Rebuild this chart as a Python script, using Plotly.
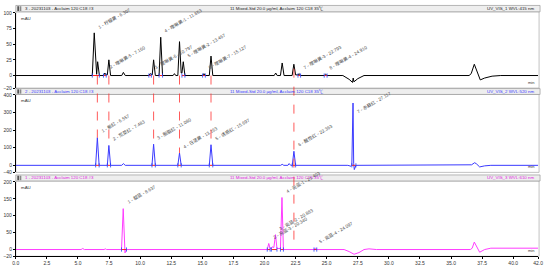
import plotly.graph_objects as go

W, H = 550, 272

# ---------------- data ----------------
# Channel 3 : UV_VIS_1  415 nm (black)
t415 = [0.0, 6.15, 6.307, 6.44, 6.50, 6.58, 6.72,
        7.05, 7.16, 7.26, 7.36, 7.483, 7.62,
        8.52, 8.65, 8.80,
        10.70, 10.797, 10.90, 10.97, 11.08, 11.22,
        11.52, 11.653, 11.80,
        12.65, 12.757, 12.86,
        13.03, 13.163, 13.30, 13.36, 13.467, 13.60,
        15.02, 15.127, 15.24,
        15.56, 15.697, 15.84,
        20.78, 20.90, 21.02,
        21.28, 21.42, 21.57,
        22.22, 22.36, 22.50, 22.69, 22.793, 22.90,
        24.80, 24.91, 25.03,
        26.30, 26.80, 27.08, 27.13, 27.19, 27.50, 28.00,
        36.45, 36.62, 36.87, 37.05, 37.35, 37.70, 38.30, 39.00, 42.0]
v415 = [0, 0, 68, 3, 2, 22, 0,
        0, 4, 1, 1, 25, 0,
        0, 5, 0,
        0, 3, 1, 1, 25, 0,
        0, 61, 0,
        0, 3, 0,
        0, 54, 4, 4, 22, 0,
        0, 3, 0,
        0, 31, 0,
        0, 4, 0,
        0, 20, 0,
        0, 18, 1, 1, 3, 0,
        0, 2, 0,
        0, -6, -11, -4, -10, -5, 0,
        0, 3, 18, 8, -7, -4, -1, 0, 0]

# Channel 2 : UV_VIS_2  520 nm (blue)
t520 = [0.0, 6.42, 6.557, 6.70,
        7.36, 7.483, 7.62,
        8.52, 8.65, 8.80,
        10.95, 11.08, 11.22,
        13.03, 13.163, 13.30,
        15.56, 15.697, 15.84,
        21.30, 21.42, 21.55, 21.88, 21.98, 22.10,
        22.23, 22.363, 22.50,
        26.70, 26.95, 27.02, 27.117, 27.17, 27.22, 27.35,
        36.50, 36.65, 36.90, 37.05, 37.30, 37.70, 38.20, 42.0]
v520 = [0, 0, 157, 0,
        0, 113, 0,
        0, 10, 0,
        0, 120, 0,
        0, 70, 0,
        0, 117, 0,
        0, 6, 0, 0, 10, 0,
        0, 80, 0,
        0, -5, 0, 354, 10, -24, 0,
        0, 3, 15, 8, -9, -3, 0, 0]

# Channel 1 : UV_VIS_3  610 nm (magenta)
t610 = [0.0, 5.25, 5.38, 5.52,
        7.10, 7.20, 7.30,
        8.50, 8.637, 8.72, 8.78, 8.90,
        20.22, 20.34, 20.45,
        20.55, 20.62, 20.75, 20.883, 21.00,
        21.28, 21.403, 21.52,
        23.98, 24.097, 24.20,
        26.40, 26.80, 27.20, 27.60, 28.00, 28.40, 29.00,
        36.55, 36.70, 36.87, 37.05, 37.30, 37.70, 38.20, 42.0]
v610 = [0, 0, 3, 0,
        0, 2, 0,
        0, 121, 5, -10, 0,
        0, 18, 3,
        3, 8, 6, 44, 3,
        3, 154, 0,
        0, 4, 0,
        0, -6, -14, -9, 0, 2, 0,
        0, 4, 22, 10, -8, 0, 4, 4]

# peak labels
lab415 = ["1 - 柠檬黄 - 6.307", "2 - 喹啉黄-5 - 7.160", "3 - 喹啉黄-6 - 10.797",
          "4 - 喹啉黄-1 - 11.653", "5 - 喹啉黄-2 - 13.467", "6 - 喹啉黄-7 - 15.127",
          "7 - 喹啉黄-3 - 22.793", "8 - 喹啉黄-4 - 24.910"]
rt415 = [6.307, 7.160, 10.797, 11.653, 13.467, 15.127, 22.793, 24.910]
pk415 = [68, 4, 3, 61, 22, 3, 3, 2]

lab520 = ["1 - 新红 - 6.557", "2 - 苋菜红 - 7.483", "3 - 胭脂红 - 11.080",
          "4 - 日落黄 - 13.163", "5 - 诱惑红 - 15.697", "6 - 酸性红 - 22.363",
          "7 - 赤藓红 - 27.117"]
rt520 = [6.557, 7.483, 11.080, 13.163, 15.697, 22.363, 27.117]
pk520 = [157, 113, 120, 70, 117, 80, 267]

lab610 = ["1 - 靛蓝 - 8.637", "2 - 亮蓝-3 - 20.340", "3 - 亮蓝-2 - 20.883",
          "4 - 亮蓝-1 - 21.403", "5 - 亮蓝-4 - 24.097"]
rt610 = [8.637, 20.340, 20.883, 21.403, 24.097]
pk610 = [121, 18, 44, 154, 4]

# integration windows (start, end) per channel
ws415 = [6.15, 7.05, 10.70, 11.52, 13.36, 15.02, 22.69, 24.80]
we415 = [6.72, 7.27, 10.90, 11.80, 13.60, 15.24, 22.90, 25.03]
ws520 = [6.42, 7.36, 10.95, 13.03, 15.56, 22.23, 27.02]
we520 = [6.70, 7.62, 11.22, 13.30, 15.84, 22.50, 27.35]
ws610 = [8.50, 20.22, 20.55, 21.28, 23.98]
we610 = [8.90, 20.45, 21.00, 21.52, 24.20]

# connecting markers (peak times in the 520 nm channel)
link_rt = [6.557, 7.483, 11.080, 13.163, 15.697]
link_pk = [157, 113, 120, 70, 117]
link2_rt = 22.363

xtick_vals = [0, 2.5, 5, 7.5, 10, 12.5, 15, 17.5, 20, 22.5, 25, 27.5, 30, 32.5, 35, 37.5, 40, 42]
xtick_text = ["0.0", "2.5", "5.0", "7.5", "10.0", "12.5", "15.0", "17.5", "20.0", "22.5",
              "25.0", "27.5", "30.0", "32.5", "35.0", "37.5", "40.0", "42.0"]

# ---------------- layout helpers ----------------
X0, X1 = 13, 543
FONT = "Liberation Sans, Noto Sans CJK SC, sans-serif"

def py(p):
    return 1 - p / H

def px(p):
    return p / W

panels = [
    dict(t=t415, v=v415, col="#000000", txtcol="#222222", rng=[-20, 100], top=10, bot=87,
         ticks=[-20, 0, 25, 50, 75, 100], bar=(2.5, 9),
         left="3 - 20231103 - Acclaim 120 C18 #3", right="UV_VIS_1 WVL:415 nm",
         labs=lab415, rts=rt415, pks=pk415, ws=ws415, we=we415),
    dict(t=t520, v=v520, col="#3a3aff", txtcol="#3a3aff", rng=[-40, 400], top=94, bot=173.2,
         ticks=[-40, 0, 100, 200, 300, 400], bar=(87.5, 93.5),
         left="2 - 20231103 - Acclaim 120 C18 #3", right="UV_VIS_2 WVL:520 nm",
         labs=lab520, rts=rt520, pks=pk520, ws=ws520, we=we520),
    dict(t=t610, v=v610, col="#ff3cff", txtcol="#e020e0", rng=[-20, 200], top=183, bot=259,
         ticks=[-20, 0, 50, 100, 150, 200], bar=(175.8, 182),
         left="1 - 20231103 - Acclaim 120 C18 #3", right="UV_VIS_3 WVL:610 nm",
         labs=lab610, rts=rt610, pks=pk610, ws=ws610, we=we610),
]

def to_paper(val, p):
    lo, hi = p["rng"]
    frac = (val - lo) / (hi - lo)
    return py(p["bot"]) + frac * (py(p["top"]) - py(p["bot"]))

fig = go.Figure()
shapes = []
annos = []
layout = {}

for i, p in enumerate(panels):
    k = "" if i == 0 else str(i + 1)
    xa, ya = "x" + k, "y" + k
    # chromatogram
    fig.add_trace(go.Scatter(x=p["t"], y=p["v"], mode="lines", xaxis=xa, yaxis=ya,
                             line=dict(color=p["col"], width=1), showlegend=False,
                             hoverinfo="skip"))
    # integration baselines (red) and delimiters (blue)
    bx, by = [], []
    for s, e in zip(p["ws"], p["we"]):
        bx += [s, e, None]
        by += [0, 0, None]
    fig.add_trace(go.Scatter(x=bx, y=by, mode="lines", xaxis=xa, yaxis=ya,
                             line=dict(color="#ff2020", width=1), showlegend=False,
                             hoverinfo="skip"))
    fig.add_trace(go.Scatter(x=p["ws"] + p["we"], y=[0] * (len(p["ws"]) * 2), mode="markers",
                             xaxis=xa, yaxis=ya,
                             marker=dict(symbol="line-ns", size=3,
                                         line=dict(color="#2040ff", width=0.8)),
                             showlegend=False, hoverinfo="skip"))
    dom_y = [py(p["bot"]), py(p["top"])]
    layout["xaxis" + k] = dict(domain=[px(X0), px(X1)], range=[0, 42], anchor=ya,
                               showgrid=False, zeroline=False,
                               showticklabels=(i == 2), ticks="outside" if i == 2 else "",
                               tickvals=xtick_vals, ticktext=xtick_text, ticklen=2,
                               tickwidth=0.6, tickcolor="#000",
                               tickfont=dict(size=5, color="#333", family=FONT),
                               showline=(i == 2), linecolor="#000", linewidth=0.8)
    layout["yaxis" + k] = dict(domain=dom_y, range=p["rng"], anchor=xa,
                               showgrid=False, zeroline=False, tickvals=p["ticks"],
                               ticks="outside", ticklen=2, tickwidth=0.6, tickcolor="#000",
                               tickfont=dict(size=5, color="#333", family=FONT),
                               showline=True, linecolor="#000", linewidth=0.8)
    # panel frame
    shapes.append(dict(type="rect", xref="paper", yref="paper", x0=px(X0), x1=px(X1 + 1),
                       y0=py(p["bot"]), y1=py(p["bar"][1]),
                       line=dict(color="#9a9a9a", width=0.6), layer="below"))
    # title bar
    shapes.append(dict(type="rect", xref="paper", yref="paper", x0=px(X0), x1=px(545),
                       y0=py(p["bar"][1]), y1=py(p["bar"][0]), fillcolor="#eeeeee",
                       line=dict(color="#8a8a8a", width=0.6)))
    shapes.append(dict(type="rect", xref="paper", yref="paper", x0=px(14.5), x1=px(16.5),
                       y0=py(p["bar"][1] - 0.8), y1=py(p["bar"][0] + 0.8), fillcolor="#555555",
                       line=dict(width=0)))
    shapes.append(dict(type="rect", xref="paper", yref="paper", x0=px(17.2), x1=px(18.6),
                       y0=py(p["bar"][1] - 0.8), y1=py(p["bar"][0] + 0.8), fillcolor="#888888",
                       line=dict(width=0)))
    ymid = py((p["bar"][0] + p["bar"][1]) / 2)
    annos.append(dict(text=p["left"], xref="paper", yref="paper", x=px(20), y=ymid,
                      xanchor="left", yanchor="middle", showarrow=False,
                      font=dict(size=4.4, color=p["txtcol"], family=FONT)))
    annos.append(dict(text="11 Mixed-Std 20.0 µg/ml, Acclaim 120 C18 35℃", xref="paper",
                      yref="paper", x=px(278), y=ymid, xanchor="center", yanchor="middle",
                      showarrow=False, font=dict(size=4.4, color=p["txtcol"], family=FONT)))
    annos.append(dict(text=p["right"], xref="paper", yref="paper", x=px(541), y=ymid,
                      xanchor="right", yanchor="middle", showarrow=False,
                      font=dict(size=4.4, color=p["txtcol"], family=FONT)))
    # mAU / min
    annos.append(dict(text="mAU", xref="paper", yref="paper", x=px(16), y=py(p["top"] + 1),
                      xanchor="left", yanchor="top", showarrow=False,
                      font=dict(size=4.4, color="#333", family=FONT)))
    annos.append(dict(text="min", xref="paper", yref="paper", x=px(541), y=py(p["bot"] - 1.5),
                      xanchor="right", yanchor="bottom", showarrow=False,
                      font=dict(size=4, color="#333", family=FONT)))
    # peak labels
    for lab, rt, pk in zip(p["labs"], p["rts"], p["pks"]):
        annos.append(dict(text=lab, x=rt, y=pk, xref=xa, yref=ya, xanchor="left",
                          yanchor="bottom", showarrow=False, textangle=-30,
                          font=dict(size=4.6, color="#444", family=FONT)))

# red dashed connectors
top_p, mid_p, bot_p = panels
for rt, pk in zip(link_rt, link_pk):
    shapes.append(dict(type="line", xref="x", yref="paper", x0=rt, x1=rt,
                       y0=to_paper(0, top_p), y1=to_paper(pk, mid_p),
                       line=dict(color="#ff3030", width=0.8, dash="dash")))
shapes.append(dict(type="line", xref="x", yref="paper", x0=link2_rt, x1=link2_rt,
                   y0=to_paper(11, top_p), y1=to_paper(14, bot_p),
                   line=dict(color="#ff3030", width=0.8, dash="dash")))

fig.update_layout(**layout)
fig.update_layout(width=W, height=H, margin=dict(l=0, r=0, t=0, b=0),
                  paper_bgcolor="white", plot_bgcolor="white",
                  shapes=shapes, annotations=annos, showlegend=False,
                  font=dict(family=FONT))
fig.write_html("out.html")
